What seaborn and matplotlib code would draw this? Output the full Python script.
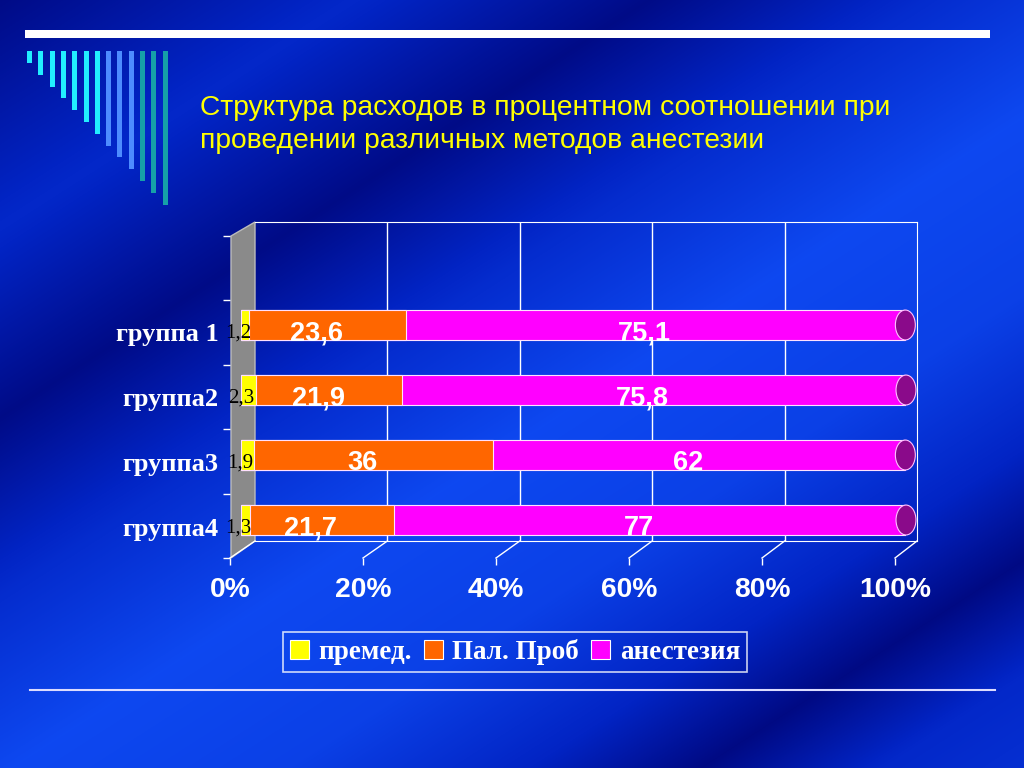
import numpy as np
import pandas as pd
import seaborn as sns
import matplotlib.pyplot as plt
from matplotlib.patches import Patch, Polygon, Rectangle, Ellipse
from matplotlib.lines import Line2D
from matplotlib.colors import LinearSegmentedColormap
from matplotlib.transforms import ScaledTranslation

# data
groups = ["группа 1", "группа2", "группа3", "группа4"]
premed = [1.2, 2.3, 1.9, 1.3]
pal_prob = [23.6, 21.9, 36, 21.7]
anest = [75.1, 75.8, 62, 77]
series_names = ["премед.", "Пал. Проб", "анестезия"]
x_ticks = [0, 20, 40, 60, 80, 100]
title = ("Структура расходов в процентном соотношении при\n"
         "проведении различных методов анестезии")

colors = ["#ffff00", "#ff6600", "#ff00ff"]

plt.rcParams['font.family'] = ['Liberation Sans', 'DejaVu Sans']

W, H = 1024, 768
fig = plt.figure(figsize=(10.24, 7.68), dpi=100)


def box(x0, y0, x1, y1):
    # pixel box (top-left origin) -> figure rect
    return [x0 / W, 1 - y1 / H, (x1 - x0) / W, (y1 - y0) / H]


def fx(x):
    return x / W


def fy(y):
    return 1 - y / H


# background: diagonal light/dark streaks like the slide template
bg = fig.add_axes([0, 0, 1, 1], zorder=-10)
yy, xx = np.mgrid[0:H, 0:W]
u = 0.54 * xx + 0.84 * yy
shade = np.interp(u, [0, 190, 350, 500, 650, 800, 930, 1023, 1120, 1250],
                  [0.1, 0.55, 0.1, 0.6, 0.95, 0.85, 0.5, 0.08, 0.55, 0.7])
cmap = LinearSegmentedColormap.from_list(
    "bg", ["#000578", "#0224c4", "#0f4cf5"])
bg.imshow(shade, cmap=cmap, vmin=0, vmax=1, aspect='auto',
          extent=[0, W, H, 0])
bg.axis('off')

# slide decorations
fig.add_artist(Rectangle((fx(25), fy(38)), fx(990) - fx(25), fy(30) - fy(38),
                         transform=fig.transFigure, color='white', lw=0))
bar_cols = ['#22eeff'] * 7 + ['#4d8cff'] * 3 + ['#16a0a8'] * 3
for i, c in enumerate(bar_cols):
    x0 = 27 + i * 11.3
    y1 = 63 + i * 11.8
    fig.add_artist(Rectangle((fx(x0), fy(y1)), 5 / W, (y1 - 51) / H,
                             transform=fig.transFigure, color=c, lw=0))
fig.add_artist(Line2D([fx(30), fx(995)], [fy(690), fy(690)],
                      transform=fig.transFigure, color='#dcdcff', lw=1.5))

fig.text(fx(200), fy(95), title, color='#ffff00', fontsize=20.3,
         va='top', ha='left', linespacing=1.36)

# back wall
ax_w = fig.add_axes(box(255, 222, 917, 541), zorder=1)
ax_w.set_facecolor('none')
ax_w.set_xlim(0, 100)
ax_w.set_ylim(0, 1)
ax_w.set_xticks(x_ticks[1:-1])
ax_w.set_yticks([])
ax_w.tick_params(length=0, labelbottom=False)
ax_w.grid(axis='x', color='white', lw=1)
for s in ['top', 'right', 'bottom']:
    ax_w.spines[s].set_color('white')
ax_w.spines['left'].set_visible(False)
ax_w.add_patch(Polygon([(fx(231), fy(236)), (fx(255), fy(222)),
                        (fx(255), fy(541)), (fx(231), fy(558))],
                       closed=True, transform=fig.transFigure, clip_on=False,
                       facecolor='#8a8a8a', edgecolor='#bbbbbb', lw=1))

# floor lines
for t in x_ticks:
    xf = 230 + t * 6.65
    xb = 255 + t * 6.62
    fig.add_artist(Line2D([fx(xf), fx(xb)], [fy(558), fy(541)],
                          transform=fig.transFigure, color='white', lw=1))

# bars
df = pd.DataFrame({'group': groups, 'premed': premed,
                   'pal': pal_prob, 'anest': anest})
df['c2'] = df['premed'] + df['pal']
df['c3'] = df['c2'] + df['anest']

ax_b = fig.add_axes(box(241, 229, 906, 549), zorder=2)
ax_b.set_facecolor('none')
for col, c in zip(['c3', 'c2', 'premed'], colors[::-1]):
    sns.barplot(data=df, x=col, y='group', orient='h', color=c, saturation=1,
                width=0.46, edgecolor='#ffe0ff', linewidth=0.8, ax=ax_b)
# dark end caps of the cylinders
for i in range(len(groups)):
    ax_b.add_patch(Ellipse((df['c3'][i], i), 3.0, 0.46, facecolor='#8a0a8a',
                           edgecolor='#ffc0ff', lw=0.8, zorder=5,
                           clip_on=False))
ax_b.set_xlim(0, 100)
ax_b.set_ylim(3.446, -1.477)
ax_b.set_xticks([])
ax_b.set_xlabel('')
ax_b.set_ylabel('')
for s in ax_b.spines.values():
    s.set_visible(False)
ax_b.tick_params(axis='y', length=0, pad=16)
for lab in ax_b.get_yticklabels():
    lab.set_fontfamily('Liberation Serif')
    lab.set_fontweight('bold')
    lab.set_fontsize(19)
    lab.set_color('white')
    lab.set_transform(lab.get_transform() +
                      ScaledTranslation(0, -0.07, fig.dpi_scale_trans))


def fmt(v):
    return f"{v:g}".replace('.', ',')


for i in range(len(groups)):
    ax_b.annotate(fmt(premed[i]), xy=(premed[i] / 2, i), xytext=(-5, -6),
                  textcoords='offset points', ha='center', va='center',
                  fontsize=15, color='black', family='Liberation Serif',
                  zorder=6)
    ax_b.annotate(fmt(pal_prob[i]), xy=(premed[i] + pal_prob[i] / 2, i),
                  xytext=(-8, -6), textcoords='offset points', ha='center',
                  va='center', fontsize=19.5, fontweight='bold',
                  color='white', zorder=6)
    ax_b.annotate(fmt(anest[i]), xy=(df['c2'][i] + anest[i] / 2, i),
                  xytext=(-8, -6), textcoords='offset points', ha='center',
                  va='center', fontsize=19.5, fontweight='bold',
                  color='white', zorder=6)

# front axis with percent labels
ax_f = fig.add_axes(box(230, 236, 895, 558), zorder=3)
ax_f.set_facecolor('none')
ax_f.set_xlim(0, 100)
ax_f.set_ylim(5, 0)
ax_f.set_xticks(x_ticks)
ax_f.set_xticklabels([f"{t}%" for t in x_ticks])
ax_f.set_yticks(range(6))
ax_f.set_yticklabels([])
for s in ax_f.spines.values():
    s.set_visible(False)
ax_f.tick_params(axis='both', colors='white', length=5, width=1, pad=9)
for lab in ax_f.get_xticklabels():
    lab.set_fontsize(20.3)
    lab.set_fontweight('bold')

# legend
handles = [Patch(facecolor=c, edgecolor='white', lw=0.8) for c in colors]
leg = fig.legend(handles, series_names, loc='center',
                 bbox_to_anchor=(fx(515), fy(652)), ncol=3, frameon=True,
                 fancybox=False, facecolor='none', edgecolor='white',
                 prop=dict(family='Liberation Serif', weight='bold', size=19.5),
                 labelcolor='white', handlelength=0.7, handleheight=0.7,
                 columnspacing=0.45, handletextpad=0.35, borderpad=0.25,
                 borderaxespad=0)
leg.get_frame().set_linewidth(1.2)

fig.savefig('out.png', dpi=100)
